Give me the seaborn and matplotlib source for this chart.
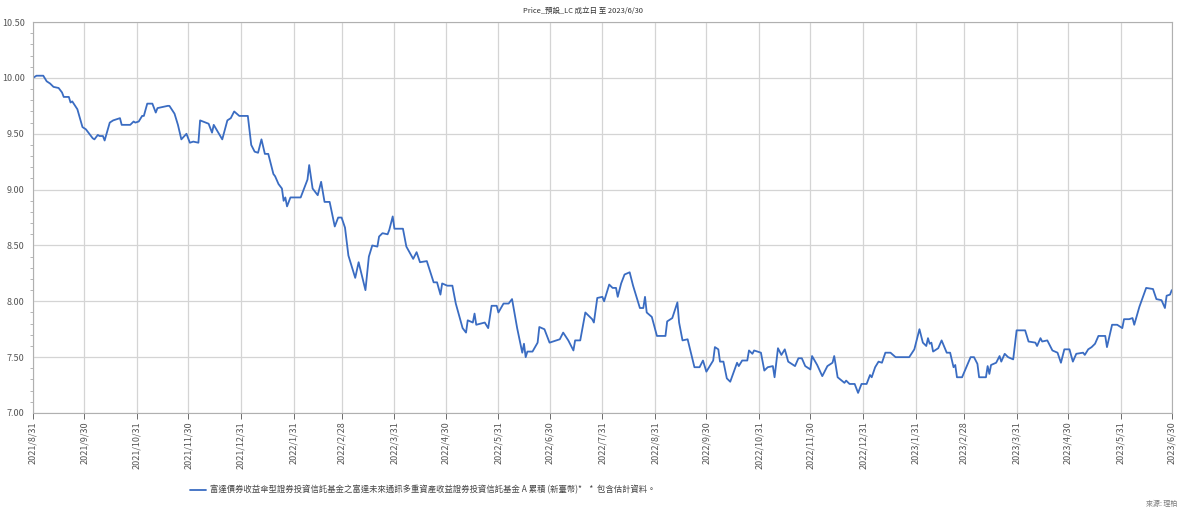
import matplotlib
matplotlib.use('Agg')
import matplotlib.pyplot as plt
import matplotlib.dates as mdates
from matplotlib.ticker import MultipleLocator, FormatStrFormatter
import pandas as pd
import seaborn as sns


TITLE = 'Price_預設_LC 成立日 至 2023/6/30'
FUND = '富達債券收益傘型證券投資信託基金之富達未來通訊多重資產收益證券投資信託基金 A 累積 (新臺幣)*'
NOTE = '*  包含估計資料。'
SOURCE = '來源: 理柏'

dates = [
    '2021-08-31', '2021-09-02', '2021-09-06', '2021-09-08', '2021-09-10', '2021-09-12',
    '2021-09-15', '2021-09-17', '2021-09-18', '2021-09-21', '2021-09-22', '2021-09-23',
    '2021-09-26', '2021-09-29', '2021-10-01', '2021-10-05', '2021-10-06', '2021-10-08',
    '2021-10-09', '2021-10-11', '2021-10-12', '2021-10-15', '2021-10-17', '2021-10-21',
    '2021-10-22', '2021-10-27', '2021-10-29', '2021-10-30', '2021-11-01', '2021-11-03',
    '2021-11-04', '2021-11-06', '2021-11-09', '2021-11-11', '2021-11-12', '2021-11-15',
    '2021-11-18', '2021-11-19', '2021-11-22', '2021-11-24', '2021-11-26', '2021-11-29',
    '2021-12-01', '2021-12-03', '2021-12-06', '2021-12-07', '2021-12-12', '2021-12-14',
    '2021-12-15', '2021-12-20', '2021-12-23', '2021-12-25', '2021-12-27', '2021-12-30',
    '2022-01-04', '2022-01-06', '2022-01-08', '2022-01-10', '2022-01-12', '2022-01-14',
    '2022-01-16', '2022-01-19', '2022-01-20', '2022-01-22', '2022-01-24', '2022-01-25',
    '2022-01-26', '2022-01-27', '2022-01-29', '2022-02-04', '2022-02-08', '2022-02-09',
    '2022-02-11', '2022-02-14', '2022-02-16', '2022-02-18', '2022-02-21', '2022-02-24',
    '2022-02-26', '2022-02-28', '2022-03-02', '2022-03-04', '2022-03-08', '2022-03-10',
    '2022-03-14', '2022-03-16', '2022-03-18', '2022-03-21', '2022-03-22', '2022-03-24',
    '2022-03-27', '2022-03-28', '2022-03-30', '2022-03-31', '2022-04-05', '2022-04-07',
    '2022-04-11', '2022-04-13', '2022-04-15', '2022-04-19', '2022-04-23', '2022-04-25',
    '2022-04-27', '2022-04-28', '2022-05-01', '2022-05-04', '2022-05-06', '2022-05-10',
    '2022-05-12', '2022-05-13', '2022-05-16', '2022-05-17', '2022-05-18', '2022-05-23',
    '2022-05-25', '2022-05-27', '2022-05-30', '2022-05-31', '2022-06-03', '2022-06-06',
    '2022-06-08', '2022-06-11', '2022-06-14', '2022-06-15', '2022-06-16', '2022-06-17',
    '2022-06-20', '2022-06-23', '2022-06-24', '2022-06-27', '2022-06-30', '2022-07-02',
    '2022-07-06', '2022-07-08', '2022-07-11', '2022-07-14', '2022-07-15', '2022-07-18',
    '2022-07-21', '2022-07-25', '2022-07-26', '2022-07-28', '2022-07-31', '2022-08-01',
    '2022-08-04', '2022-08-06', '2022-08-08', '2022-08-09', '2022-08-11', '2022-08-13',
    '2022-08-16', '2022-08-18', '2022-08-20', '2022-08-22', '2022-08-24', '2022-08-25',
    '2022-08-26', '2022-08-29', '2022-09-01', '2022-09-06', '2022-09-07', '2022-09-10',
    '2022-09-13', '2022-09-14', '2022-09-16', '2022-09-19', '2022-09-23', '2022-09-26',
    '2022-09-28', '2022-09-30', '2022-10-04', '2022-10-05', '2022-10-07', '2022-10-08',
    '2022-10-10', '2022-10-12', '2022-10-14', '2022-10-18', '2022-10-19', '2022-10-21',
    '2022-10-24', '2022-10-25', '2022-10-27', '2022-10-28', '2022-11-01', '2022-11-03',
    '2022-11-05', '2022-11-08', '2022-11-09', '2022-11-11', '2022-11-13', '2022-11-15',
    '2022-11-17', '2022-11-21', '2022-11-23', '2022-11-25', '2022-11-27', '2022-11-30',
    '2022-12-01', '2022-12-04', '2022-12-07', '2022-12-10', '2022-12-13', '2022-12-14',
    '2022-12-16', '2022-12-20', '2022-12-21', '2022-12-23', '2022-12-26', '2022-12-28',
    '2022-12-30', '2023-01-02', '2023-01-04', '2023-01-05', '2023-01-07', '2023-01-09',
    '2023-01-11', '2023-01-13', '2023-01-16', '2023-01-19', '2023-01-27', '2023-01-30',
    '2023-02-02', '2023-02-04', '2023-02-06', '2023-02-07', '2023-02-08', '2023-02-09',
    '2023-02-10', '2023-02-13', '2023-02-15', '2023-02-18', '2023-02-20', '2023-02-22',
    '2023-02-23', '2023-02-24', '2023-02-27', '2023-03-04', '2023-03-06', '2023-03-08',
    '2023-03-09', '2023-03-13', '2023-03-14', '2023-03-15', '2023-03-16', '2023-03-19',
    '2023-03-21', '2023-03-22', '2023-03-24', '2023-03-26', '2023-03-29', '2023-03-31',
    '2023-04-05', '2023-04-07', '2023-04-11', '2023-04-12', '2023-04-14', '2023-04-15',
    '2023-04-18', '2023-04-21', '2023-04-24', '2023-04-26', '2023-04-28', '2023-05-01',
    '2023-05-03', '2023-05-05', '2023-05-09', '2023-05-10', '2023-05-12', '2023-05-14',
    '2023-05-16', '2023-05-18', '2023-05-22', '2023-05-23', '2023-05-26', '2023-05-29',
    '2023-06-01', '2023-06-02', '2023-06-05', '2023-06-07', '2023-06-08', '2023-06-11',
    '2023-06-15', '2023-06-19', '2023-06-21', '2023-06-24', '2023-06-26', '2023-06-27',
    '2023-06-29', '2023-06-30',
]

prices = [
    10.00, 10.02, 10.02, 9.97, 9.95, 9.92,
    9.91, 9.87, 9.83, 9.83, 9.78, 9.79,
    9.72, 9.56, 9.54, 9.46, 9.45, 9.49,
    9.48, 9.48, 9.44, 9.60, 9.62, 9.64,
    9.58, 9.58, 9.61, 9.60, 9.61, 9.66,
    9.66, 9.77, 9.77, 9.69, 9.73, 9.74,
    9.75, 9.75, 9.68, 9.58, 9.45, 9.50,
    9.42, 9.43, 9.42, 9.62, 9.59, 9.51,
    9.58, 9.45, 9.62, 9.64, 9.70, 9.66,
    9.66, 9.40, 9.34, 9.33, 9.45, 9.32,
    9.32, 9.14, 9.12, 9.05, 9.01, 8.90,
    8.93, 8.85, 8.93, 8.93, 9.09, 9.22,
    9.01, 8.95, 9.07, 8.89, 8.89, 8.67,
    8.75, 8.75, 8.66, 8.41, 8.21, 8.35,
    8.10, 8.40, 8.50, 8.49, 8.58, 8.61,
    8.60, 8.64, 8.76, 8.65, 8.65, 8.49,
    8.38, 8.44, 8.35, 8.36, 8.17, 8.17,
    8.06, 8.16, 8.14, 8.14, 7.98, 7.76,
    7.72, 7.83, 7.81, 7.89, 7.79, 7.81,
    7.76, 7.96, 7.96, 7.90, 7.98, 7.98,
    8.02, 7.76, 7.54, 7.62, 7.50, 7.55,
    7.55, 7.63, 7.77, 7.75, 7.63, 7.64,
    7.66, 7.72, 7.65, 7.56, 7.65, 7.65,
    7.90, 7.84, 7.81, 8.03, 8.04, 8.00,
    8.15, 8.12, 8.12, 8.04, 8.16, 8.24,
    8.26, 8.14, 8.04, 7.94, 7.94, 8.04,
    7.90, 7.86, 7.69, 7.69, 7.82, 7.85,
    7.99, 7.81, 7.65, 7.66, 7.41, 7.41,
    7.47, 7.37, 7.47, 7.59, 7.57, 7.46,
    7.46, 7.31, 7.28, 7.45, 7.42, 7.47,
    7.47, 7.56, 7.53, 7.56, 7.54, 7.38,
    7.41, 7.42, 7.32, 7.58, 7.52, 7.57,
    7.46, 7.42, 7.49, 7.49, 7.42, 7.39,
    7.51, 7.43, 7.33, 7.42, 7.45, 7.51,
    7.32, 7.27, 7.29, 7.26, 7.26, 7.18,
    7.26, 7.26, 7.34, 7.32, 7.41, 7.46,
    7.45, 7.54, 7.54, 7.50, 7.50, 7.57,
    7.75, 7.63, 7.60, 7.67, 7.62, 7.63,
    7.55, 7.58, 7.65, 7.54, 7.54, 7.41,
    7.43, 7.32, 7.32, 7.50, 7.50, 7.44,
    7.32, 7.32, 7.42, 7.35, 7.43, 7.45,
    7.51, 7.46, 7.53, 7.50, 7.48, 7.74,
    7.74, 7.64, 7.63, 7.60, 7.67, 7.64,
    7.65, 7.56, 7.54, 7.45, 7.57, 7.57,
    7.46, 7.53, 7.54, 7.52, 7.57, 7.59,
    7.62, 7.69, 7.69, 7.59, 7.79, 7.79,
    7.76, 7.84, 7.84, 7.85, 7.79, 7.95,
    8.12, 8.11, 8.02, 8.01, 7.94, 8.05,
    8.06, 8.10,
]

month_ends = pd.date_range('2021-08-31', '2023-06-30', freq='ME')


def main():
    sns.set_style('whitegrid')
    plt.rcParams['font.family'] = ['Noto Sans CJK TC', 'DejaVu Sans']

    df = pd.DataFrame({'date': pd.to_datetime(dates), 'price': prices})

    fig = plt.figure(figsize=(11.8, 5.14), dpi=100)
    ax = fig.add_axes([0.028, 0.1965, 0.965, 0.7605])

    sns.lineplot(data=df, x='date', y='price', ax=ax, color='#3a6cc2', linewidth=1.3, label=FUND)

    ax.set_xlim(month_ends[0], month_ends[-1])
    ax.set_ylim(7.0, 10.5)
    ax.set_xticks(month_ends)
    ax.xaxis.set_major_formatter(mdates.DateFormatter('%Y/%-m/%-d'))
    ax.yaxis.set_major_locator(MultipleLocator(0.5))
    ax.yaxis.set_minor_locator(MultipleLocator(0.1))
    ax.yaxis.set_major_formatter(FormatStrFormatter('%.2f'))
    ax.tick_params(axis='x', labelrotation=90, labelsize=6.5, colors='#555555',
                   length=4, width=0.6, pad=2, bottom=True)
    ax.tick_params(axis='y', labelsize=6.5, colors='#555555', length=0, pad=6)
    ax.tick_params(axis='y', which='minor', length=2, width=0.5, color='#999999', left=True)
    ax.set_xlabel('')
    ax.set_ylabel('')

    ax.grid(True, which='major', color='#d4d4d4', linewidth=0.9)
    ax.grid(False, which='minor')
    for side in ax.spines.values():
        side.set_color('#b0b0b0')
        side.set_linewidth(0.8)

    fig.text(0.494, 0.978, TITLE, ha='center', va='center', fontsize=5.4, color='#333333')

    handles, labels = ax.get_legend_handles_labels()
    ax.get_legend().remove()
    fig.legend(handles, [labels[0] + '    ' + NOTE], loc='center left',
               bbox_to_anchor=(0.155, 0.047), frameon=False, fontsize=6.0,
               handlelength=1.9, handletextpad=0.5, labelcolor='#444444')

    fig.text(0.998, 0.012, SOURCE, ha='right', va='bottom', fontsize=5.0, color='#777777')

    fig.savefig('out.png', dpi=100)
    plt.close(fig)


if __name__ == '__main__':
    main()
